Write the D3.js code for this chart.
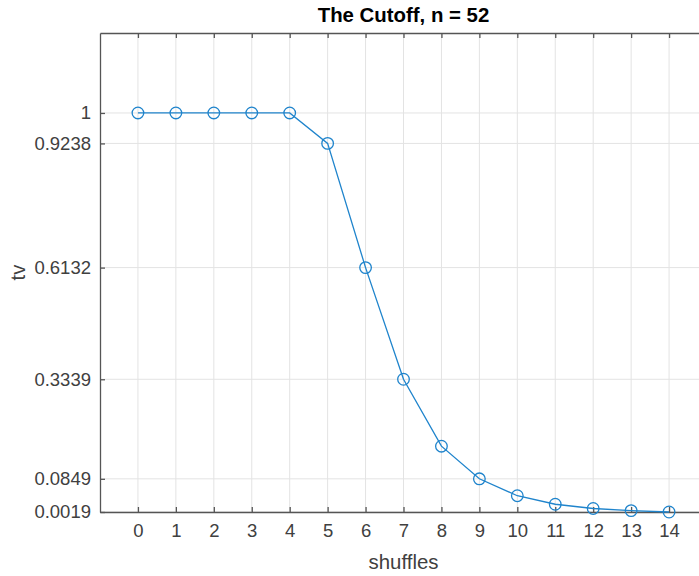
<!DOCTYPE html>
<html>
<head>
<meta charset="utf-8">
<script src="https://cdn.jsdelivr.net/npm/d3@7"></script>
<style>
  body { margin: 0; background: #fff; }
  svg { display: block; font-family: "Liberation Sans", Arial, Helvetica, sans-serif; }
</style>
</head>
<body>
<div id="chart"></div>
<script>
// shuffles vs total variation distance
const shuffles = [0, 1, 2, 3, 4, 5, 6, 7, 8, 9, 10, 11, 12, 13, 14]
const tv = [1, 1, 1, 1, 1, 0.9238, 0.6132, 0.3339, 0.1665, 0.0849, 0.0426, 0.0213, 0.0107, 0.0053, 0.0019]
const yTicks = [0.0019, 0.0849, 0.3339, 0.6132, 0.9238, 1]
const yTickLabels = ['0.0019', '0.0849', '0.3339', '0.6132', '0.9238', '1']

const width = 699
const height = 576
const margin = {top: 33, right: -8, bottom: 64, left: 100}
const axisColor = '#555555'
const textColor = '#404040'
const gridColor = '#e3e3e3'
const lineColor = '#1f84cc'

const svg = d3.select('#chart').append('svg')
    .attr('width', width)
    .attr('height', height)

const x = d3.scaleLinear()
    .domain([-1, 15])
    .range([margin.left, width - margin.right])
const y = d3.scaleLinear()
    .domain([0.0019, 1.2])
    .range([height - margin.bottom, margin.top])

const x0 = x.range()[0], x1 = x.range()[1]
const y0 = y.range()[0], y1 = y.range()[1]

// grid
const grid = svg.append('g')
grid.selectAll('.gx').data(shuffles).enter().append('line')
    .attr('x1', d => x(d)).attr('x2', d => x(d))
    .attr('y1', y0).attr('y2', y1)
    .attr('stroke', gridColor).attr('stroke-width', 1)
grid.selectAll('.gy').data(yTicks).enter().append('line')
    .attr('x1', x0).attr('x2', x1)
    .attr('y1', d => y(d)).attr('y2', d => y(d))
    .attr('stroke', gridColor).attr('stroke-width', 1)

// axes (ticks inside, like matlab)
const xAxis = svg.append('g')
    .attr('transform', `translate(0, ${y0})`)
    .call(d3.axisBottom(x).tickValues(shuffles).tickSizeInner(-5).tickSizeOuter(0).tickPadding(12))
const xAxisTop = svg.append('g')
    .attr('transform', `translate(0, ${y1})`)
    .call(d3.axisTop(x).tickValues(shuffles).tickSizeInner(-5).tickSizeOuter(0).tickFormat(''))
const yAxis = svg.append('g')
    .attr('transform', `translate(${x0}, 0)`)
    .call(d3.axisLeft(y).tickValues(yTicks).tickSizeInner(-5).tickSizeOuter(0).tickPadding(9)
        .tickFormat((d, i) => yTickLabels[i]))

;[xAxis, xAxisTop, yAxis].forEach(g => {
    g.select('.domain').attr('stroke', axisColor).attr('stroke-width', 1.3)
    g.selectAll('.tick line').attr('stroke', axisColor).attr('stroke-width', 1.3)
    g.selectAll('.tick text')
        .attr('fill', textColor)
        .style('font-size', '18.5px')
        .style('font-family', '"Liberation Sans", Arial, Helvetica, sans-serif')
})

// data line + markers
const line = d3.line()
    .x((d, i) => x(shuffles[i]))
    .y(d => y(d))
svg.append('path')
    .datum(tv)
    .attr('fill', 'none')
    .attr('stroke', lineColor)
    .attr('stroke-width', 1.3)
    .attr('d', line)
svg.selectAll('.marker').data(tv).enter().append('circle')
    .attr('cx', (d, i) => x(shuffles[i]))
    .attr('cy', d => y(d))
    .attr('r', 5.8)
    .attr('fill', 'none')
    .attr('stroke', lineColor)
    .attr('stroke-width', 1.3)

// labels
const cx = (x0 + x1) / 2
svg.append('text')
    .attr('x', cx).attr('y', 22)
    .attr('text-anchor', 'middle')
    .attr('fill', '#000')
    .style('font-size', '20.4px')
    .style('font-weight', 'bold')
    .text('The Cutoff, n = 52')
svg.append('text')
    .attr('x', cx).attr('y', 569)
    .attr('text-anchor', 'middle')
    .attr('fill', textColor)
    .style('font-size', '20.4px')
    .text('shuffles')
svg.append('text')
    .attr('transform', `translate(25, ${(y0 + y1) / 2}) rotate(-90)`)
    .attr('text-anchor', 'middle')
    .attr('fill', textColor)
    .style('font-size', '20.4px')
    .text('tv')
</script>
</body>
</html>
